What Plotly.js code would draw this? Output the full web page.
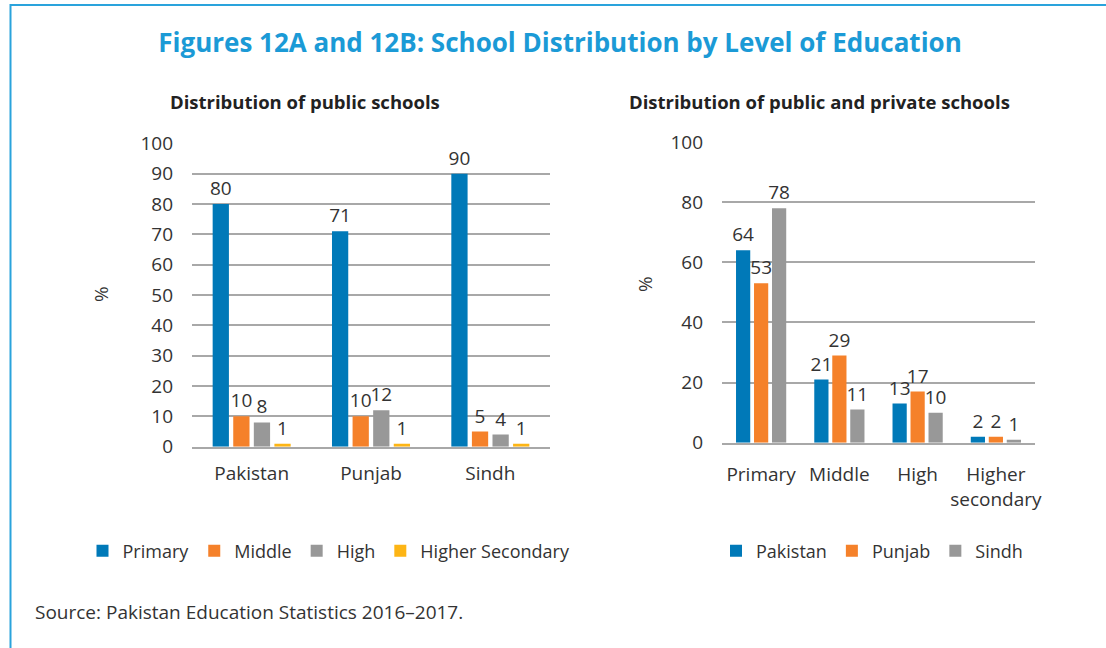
<!DOCTYPE html>
<html>
<head>
<meta charset="utf-8">
<script src="https://cdn.plot.ly/plotly-3.0.1.min.js"></script>
<style>html,body{margin:0;padding:0;background:#fff;}#chart{width:1106px;height:648px;}</style>
</head>
<body>
<div id="chart"></div>
<script>
// Figure 12A: public schools
const regionsA = ["Pakistan", "Punjab", "Sindh"];
const primaryA = [80, 71, 90];
const middleA = [10, 10, 5];
const highA = [8, 12, 4];
const higherSecA = [1, 1, 1];

// Figure 12B: public and private schools
const levelsB = ["Primary", "Middle", "High", "Higher<br>secondary"];
const pakistanB = [64, 21, 13, 2];
const punjabB = [53, 29, 17, 2];
const sindhB = [78, 11, 10, 1];

const FONT = "'Open Sans', Lato, sans-serif";
const TXT = "#333333";
const C_BLUE = "#0079b8", C_ORANGE = "#f5812a", C_GREY = "#989898", C_YELLOW = "#fdb515";

function barTrace(x, y, name, color, xa, ya, leg) {
  return {
    type: "bar", x: x, y: y, name: name, xaxis: xa, yaxis: ya, legend: leg,
    marker: {color: color},
    text: y.map(String), textposition: "outside", cliponaxis: false,
    constraintext: "none",
    textfont: {family: FONT, size: 19, color: TXT},
    hoverinfo: "x+y+name"
  };
}

const traces = [
  barTrace(regionsA, primaryA, "Primary", C_BLUE, "x", "y", "legend"),
  barTrace(regionsA, middleA, "Middle", C_ORANGE, "x", "y", "legend"),
  barTrace(regionsA, highA, "High", C_GREY, "x", "y", "legend"),
  barTrace(regionsA, higherSecA, "Higher Secondary", C_YELLOW, "x", "y", "legend"),
  barTrace(levelsB, pakistanB, "Pakistan", C_BLUE, "x2", "y2", "legend2"),
  barTrace(levelsB, punjabB, "Punjab", C_ORANGE, "x2", "y2", "legend2"),
  barTrace(levelsB, sindhB, "Sindh", C_GREY, "x2", "y2", "legend2")
];

const W = 1106, H = 648;
const px = v => v / W, py = v => 1 - v / H;

const gridColor = "#a8a8a8";
const axisCommonX = {
  type: "category", showgrid: false, showline: true, linecolor: gridColor, linewidth: 1.5,
  ticks: "", tickfont: {family: FONT, size: 19, color: TXT}, fixedrange: true
};
const axisCommonY = {
  showgrid: true, gridcolor: gridColor, gridwidth: 1.5, zeroline: false,
  showline: false, ticks: "", tickfont: {family: FONT, size: 19, color: TXT},
  ticklabelstandoff: 18, fixedrange: true
};

const layout = {
  width: W, height: H,
  margin: {l: 0, r: 0, t: 0, b: 0},
  paper_bgcolor: "#ffffff", plot_bgcolor: "rgba(0,0,0,0)",
  font: {family: FONT, color: TXT},
  barmode: "group", bargap: 0.31, bargroupgap: 0.21,
  showlegend: true,
  title: {
    text: "<b>Figures 12A and 12B: School Distribution by Level of Education</b>",
    font: {family: FONT, size: 26, color: "#1b9ad6"},
    x: px(560), xanchor: "center", y: py(43), yanchor: "middle", yref: "paper"
  },
  xaxis: Object.assign({}, axisCommonX, {domain: [px(192), px(550)], anchor: "y", ticklabelstandoff: 9}),
  yaxis: Object.assign({}, axisCommonY, {domain: [py(446.7), py(143.3)], range: [0, 100], dtick: 10, anchor: "x"}),
  xaxis2: Object.assign({}, axisCommonX, {domain: [px(722), px(1035)], anchor: "y2", ticklabelstandoff: 14}),
  yaxis2: Object.assign({}, axisCommonY, {domain: [py(442.7), py(142)], range: [0, 100], dtick: 20, anchor: "x2"}),
  legend: {
    orientation: "h", x: px(329), xanchor: "center", y: py(551), yanchor: "middle",
    font: {family: FONT, size: 18, color: TXT}, bgcolor: "rgba(0,0,0,0)", itemclick: false
  },
  legend2: {
    orientation: "h", x: px(872), xanchor: "center", y: py(551), yanchor: "middle",
    font: {family: FONT, size: 18, color: TXT}, bgcolor: "rgba(0,0,0,0)", itemclick: false
  },
  annotations: [
    {text: "<b>Distribution of public schools</b>", x: px(304.5), y: py(101), xref: "paper", yref: "paper",
     xanchor: "center", yanchor: "middle", showarrow: false, font: {family: FONT, size: 18.5, color: "#222222"}},
    {text: "<b>Distribution of public and private schools</b>", x: px(819), y: py(101), xref: "paper", yref: "paper",
     xanchor: "center", yanchor: "middle", showarrow: false, font: {family: FONT, size: 18.5, color: "#222222"}},
    {text: "%", x: px(101), y: py(294), xref: "paper", yref: "paper", textangle: -90,
     xanchor: "center", yanchor: "middle", showarrow: false, font: {family: FONT, size: 19, color: TXT}},
    {text: "%", x: px(645), y: py(284), xref: "paper", yref: "paper", textangle: -90,
     xanchor: "center", yanchor: "middle", showarrow: false, font: {family: FONT, size: 19, color: TXT}},
    {text: "Source: Pakistan Education Statistics 2016\u20132017.", x: px(33), y: py(612), xref: "paper", yref: "paper",
     xanchor: "left", yanchor: "middle", showarrow: false, font: {family: FONT, size: 19, color: TXT}}
  ],
  shapes: [
    {type: "rect", xref: "paper", yref: "paper", x0: px(10.5), x1: 1.05, y0: -0.05, y1: py(5),
     line: {color: "#2aa3dc", width: 2}, fillcolor: "rgba(0,0,0,0)", layer: "below"}
  ]
};

Plotly.newPlot("chart", traces, layout, {displayModeBar: false, staticPlot: false});
</script>
</body>
</html>
